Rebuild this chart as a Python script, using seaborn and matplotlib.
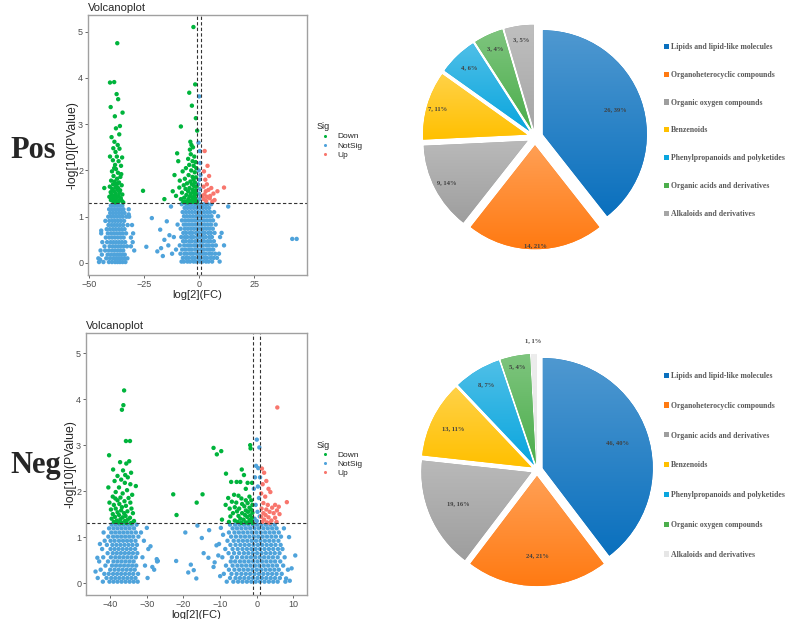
import numpy as np
import pandas as pd
import seaborn as sns
import matplotlib.pyplot as plt
import matplotlib.colors as mcolors
from matplotlib.patches import Patch

# ---------------- volcano data ----------------
# Pos
pos_down = [(-37.2, 4.75), (-40.5, 3.9), (-38.6, 3.91), (-37.5, 3.65), (-36.8, 3.54), (-40.2, 3.37),
            (-34.8, 3.25), (-38.3, 3.17), (-36.0, 2.96), (-37.8, 2.91), (-39.8, 2.72), (-36.3, 2.78),
            (-38.5, 2.62), (-37.0, 2.55), (-39.0, 2.48), (-36.2, 2.47), (-38.0, 2.40), (-35.0, 2.28),
            (-37.4, 2.30), (-40.5, 2.30), (-39.2, 2.22), (-36.6, 2.20), (-38.2, 2.12), (-35.5, 2.10),
            (-37.8, 2.03), (-39.6, 1.98), (-36.9, 1.95), (-38.9, 1.88), (-35.8, 1.86), (-37.3, 1.82),
            (-40.0, 1.78), (-38.4, 1.76), (-36.4, 1.74), (-39.1, 1.70), (-37.6, 1.69), (-35.2, 1.68),
            (-40.6, 1.65), (-38.0, 1.63), (-36.8, 1.62), (-39.5, 1.60), (-37.1, 1.58), (-35.9, 1.57),
            (-38.7, 1.55), (-40.2, 1.53), (-36.2, 1.52), (-37.9, 1.50), (-39.8, 1.48), (-34.9, 1.48),
            (-38.3, 1.46), (-36.6, 1.45), (-40.8, 1.43), (-37.4, 1.42), (-39.3, 1.41), (-35.6, 1.40),
            (-38.8, 1.38), (-36.0, 1.37), (-40.1, 1.36), (-37.7, 1.35), (-35.1, 1.34), (-39.0, 1.33),
            (-36.9, 1.32), (-38.1, 1.31), (-34.5, 1.31), (-43.1, 1.62), (-25.5, 1.56), (-15.8, 1.38),
            (-37.0, 1.72), (-35.4, 1.92), (-38.6, 2.05),
            (-2.6, 5.1), (-4.5, 3.68), (-1.8, 3.86), (-3.3, 3.4), (-1.5, 3.13), (-8.3, 2.95), (-0.9, 2.86),
            (-4.0, 2.62), (-3.5, 2.55), (-4.2, 2.45), (-2.8, 2.50), (-3.8, 2.35), (-10.0, 2.37), (-2.2, 2.30),
            (-5.0, 2.25), (-3.0, 2.20), (-1.6, 2.18), (-9.5, 2.20), (-4.5, 2.12), (-2.5, 2.10), (-6.0, 2.05),
            (-1.3, 2.05), (-3.6, 2.00), (-7.5, 1.98), (-2.0, 1.96), (-11.2, 1.90), (-4.8, 1.90), (-3.0, 1.86),
            (-1.5, 1.85), (-6.5, 1.82), (-2.6, 1.80), (-8.8, 1.78), (-4.0, 1.76), (-1.9, 1.74), (-5.5, 1.72),
            (-3.3, 1.70), (-7.0, 1.68), (-2.3, 1.66), (-1.2, 1.65), (-9.0, 1.63), (-4.4, 1.62), (-6.2, 1.60),
            (-3.0, 1.58), (-1.7, 1.57), (-12.0, 1.55), (-5.0, 1.55), (-2.6, 1.53), (-7.8, 1.52), (-3.8, 1.50),
            (-1.4, 1.49), (-5.8, 1.47), (-2.1, 1.46), (-10.5, 1.45), (-4.2, 1.44), (-3.0, 1.42), (-6.8, 1.41),
            (-1.8, 1.40), (-8.3, 1.38), (-4.9, 1.38), (-2.5, 1.36), (-3.5, 1.35), (-1.3, 1.34), (-6.0, 1.33),
            (-2.9, 1.32), (-5.2, 1.31), (-1.1, 1.31), (-7.2, 1.32), (-4.0, 1.33)]
pos_up = [(2.5, 2.42), (3.8, 2.10), (2.2, 1.98), (4.5, 1.88), (2.8, 1.80), (11.3, 1.63), (3.5, 1.70),
          (5.5, 1.62), (2.0, 1.65), (8.3, 1.55), (4.2, 1.58), (3.0, 1.55), (6.5, 1.50), (2.4, 1.48),
          (5.0, 1.45), (3.6, 1.43), (4.8, 1.40), (2.1, 1.38), (7.0, 1.36), (3.2, 1.34), (1.5, 1.45), (6.0, 1.33)]
pos_notsig_rows = [
    (0.02, [-45.5, -43.5, -41.0, -39.6, -38.2, -37.1, -36.0, -34.8, -33.5]),
    (0.10, [-45.8, -42.2, -40.5, -39.0, -37.8, -36.6, -35.4, -34.0, -32.6]),
    (0.18, [-44.2, -41.6, -40.1, -38.7, -37.4, -36.2, -35.0, -33.8]),
    (0.27, [-44.8, -42.7, -41.0, -39.5, -38.3, -37.0, -35.8, -34.5, -29.5]),
    (0.36, [-43.0, -40.7, -39.3, -38.0, -36.7, -35.5, -34.2, -32.8, -31.0]),
    (0.45, [-44.0, -41.8, -40.2, -38.9, -37.6, -36.3, -35.0, -33.6, -30.2]),
    (0.55, [-42.4, -40.8, -39.5, -38.2, -36.9, -35.6, -34.3, -31.0]),
    (0.64, [-44.5, -41.5, -40.0, -38.7, -37.4, -36.1, -34.8, -33.2, -30.0]),
    (0.73, [-42.0, -40.6, -39.2, -37.9, -36.5, -35.2, -33.9]),
    (0.82, [-41.2, -39.8, -38.5, -37.2, -35.9, -34.5, -32.5, -30.5]),
    (0.91, [-42.6, -40.8, -39.4, -38.1, -36.8, -35.5, -34.1]),
    (1.00, [-41.3, -39.9, -38.6, -37.3, -36.0, -34.7, -33.0, -31.8]),
    (1.08, [-40.4, -39.1, -37.8, -36.5, -35.2, -33.9]),
    (1.16, [-40.9, -39.6, -38.3, -37.0, -35.7, -34.4, -32.0]),
    (1.24, [-40.1, -38.8, -37.5, -36.2, -34.9]),
    (0.03, [-8.0, -6.9, -5.3, -4.1, -2.5, -1.3, 0.3, 1.5, 3.1, 4.3, 5.9, 9.3]),
    (0.11, [-7.4, -6.0, -4.8, -3.2, -2.0, -0.4, 0.8, 2.4, 3.6, 5.2, 6.6, 8.1]),
    (0.20, [-12.3, -8.5, -6.7, -5.5, -3.9, -2.7, -1.1, 0.1, 1.7, 2.9, 4.5, 5.7, 7.3, 9.0]),
    (0.29, [-10.5, -7.7, -6.2, -4.6, -3.4, -1.8, -0.6, 1.0, 2.2, 3.8, 5.0, 6.4]),
    (0.38, [-8.8, -6.8, -5.2, -4.0, -2.4, -1.2, 0.4, 1.6, 3.2, 4.4, 6.0, 7.6, 11.3]),
    (0.47, [-7.3, -6.1, -4.5, -3.3, -1.7, -0.5, 1.1, 2.3, 3.9, 5.1, 6.7]),
    (0.56, [-11.5, -8.1, -6.6, -5.4, -3.8, -2.6, -1.0, 0.2, 1.8, 3.0, 4.6, 5.8, 9.5]),
    (0.65, [-7.2, -5.9, -4.3, -3.1, -1.5, -0.3, 1.3, 2.5, 4.1, 5.3, 7.0, 10.2]),
    (0.74, [-8.4, -6.5, -5.1, -3.7, -2.3, -0.9, 0.5, 1.9, 3.3, 4.7, 6.2]),
    (0.83, [-9.8, -7.0, -5.8, -4.4, -3.0, -1.6, -0.2, 1.2, 2.6, 4.0, 5.4, 7.5]),
    (0.92, [-7.8, -6.3, -4.9, -3.5, -2.1, -0.7, 0.7, 2.1, 3.5, 4.9, 6.3]),
    (1.01, [-6.9, -5.6, -4.2, -2.8, -1.4, 0.0, 1.4, 2.8, 4.2, 5.6, 8.6]),
    (1.10, [-7.5, -6.1, -4.7, -3.3, -1.9, -0.5, 0.9, 2.3, 3.7, 5.0, 6.8]),
    (1.19, [-6.6, -5.3, -3.9, -2.5, -1.1, 0.3, 1.7, 3.1, 4.5]),
    (1.27, [-7.9, -5.9, -4.6, -3.2, -1.8, -0.4, 1.0, 2.4, 3.8, 5.5]),
]
pos_notsig_extra = [(-45.0, 0.07), (-44.5, 0.70), (-32.0, 1.05), (-21.5, 0.97), (-24.0, 0.35), (-17.7, 0.72),
                    (-14.7, 0.90), (-17.3, 0.32), (-12.8, 1.22), (-15.8, 0.50), (-19.0, 0.25), (-13.5, 0.60),
                    (-16.5, 0.15), (-14.0, 0.38), (13.2, 1.22), (42.3, 0.52), (44.3, 0.52),
                    (0.0, 3.6), (-0.3, 2.6), (0.3, 2.42), (0.5, 2.16), (-0.2, 2.0), (0.6, 1.9), (0.1, 1.8),
                    (-0.5, 1.7), (0.4, 1.6), (-0.1, 1.5), (0.7, 1.45), (0.2, 1.38), (-0.6, 1.35)]

# Neg
neg_down = [(-36.2, 4.19), (-36.4, 3.87), (-36.8, 3.77), (-35.7, 3.09), (-34.6, 3.09), (-40.3, 2.78),
            (-34.8, 2.65), (-37.3, 2.63), (-35.6, 2.60), (-39.2, 2.47), (-36.5, 2.45), (-34.3, 2.40),
            (-38.0, 2.33), (-35.2, 2.30), (-37.0, 2.25), (-33.0, 2.11), (-38.8, 2.22), (-36.0, 2.18),
            (-34.5, 2.15), (-40.5, 2.08), (-37.6, 2.08), (-35.4, 2.02), (-38.5, 1.98), (-36.6, 1.95),
            (-34.0, 1.92), (-39.3, 1.88), (-37.2, 1.86), (-35.0, 1.85), (-38.0, 1.80), (-36.1, 1.78),
            (-40.2, 1.75), (-34.5, 1.75), (-37.5, 1.72), (-39.0, 1.70), (-35.7, 1.68), (-36.8, 1.65),
            (-38.5, 1.62), (-34.2, 1.62), (-39.8, 1.60), (-37.0, 1.58), (-35.3, 1.56), (-38.0, 1.54),
            (-36.2, 1.52), (-33.8, 1.52), (-39.3, 1.50), (-37.6, 1.48), (-35.8, 1.46), (-38.7, 1.44),
            (-36.6, 1.43), (-34.6, 1.42), (-39.6, 1.40), (-37.2, 1.39), (-35.2, 1.38), (-38.2, 1.36),
            (-36.0, 1.35), (-33.5, 1.35), (-39.0, 1.33), (-37.8, 1.32), (-35.6, 1.31), (-34.3, 1.31),
            (-36.9, 1.31), (-38.6, 1.84), (-35.9, 2.35),
            (-22.8, 1.93), (-21.9, 1.48), (-16.4, 1.75), (-14.8, 1.93), (-11.8, 2.94), (-10.9, 2.80),
            (-9.7, 2.87), (-8.4, 2.38), (-4.1, 2.47), (-1.8, 3.0), (-1.7, 2.93), (-3.5, 2.35), (-5.5, 2.20),
            (-7.0, 2.20), (-2.5, 2.18), (-4.5, 2.20), (-1.3, 2.18), (-3.0, 2.05), (-6.2, 1.92), (-5.0, 1.90),
            (-2.0, 1.88), (-7.8, 1.85), (-4.2, 1.84), (-3.0, 1.80), (-1.5, 1.80), (-6.8, 1.77), (-5.6, 1.75),
            (-2.5, 1.74), (-8.5, 1.70), (-4.0, 1.72), (-1.2, 1.70), (-3.4, 1.67), (-6.0, 1.65), (-2.0, 1.64),
            (-7.4, 1.62), (-4.8, 1.62), (-1.6, 1.60), (-3.0, 1.58), (-5.4, 1.56), (-2.4, 1.55), (-1.2, 1.53),
            (-6.5, 1.52), (-4.0, 1.52), (-3.2, 1.48), (-1.8, 1.47), (-5.0, 1.46), (-7.2, 1.45), (-2.6, 1.44),
            (-1.3, 1.42), (-4.5, 1.40), (-3.6, 1.38), (-9.5, 1.38), (-2.0, 1.37), (-6.0, 1.36), (-1.5, 1.34),
            (-5.2, 1.33), (-3.0, 1.32), (-2.3, 1.31), (-4.2, 1.31), (-1.1, 1.31), (-7.6, 1.33)]
neg_up = [(5.6, 3.82), (1.4, 2.49), (2.0, 2.40), (2.6, 2.22), (1.6, 2.15), (3.2, 2.05), (3.7, 1.98),
          (8.2, 1.76), (1.2, 1.95), (2.3, 1.88), (5.0, 1.70), (1.8, 1.74), (3.0, 1.70), (6.0, 1.66),
          (4.2, 1.64), (1.3, 1.62), (2.6, 1.60), (5.5, 1.58), (3.5, 1.55), (1.8, 1.52), (4.6, 1.52),
          (2.4, 1.48), (6.2, 1.50), (1.2, 1.44), (3.2, 1.43), (5.0, 1.42), (2.0, 1.38), (4.0, 1.36),
          (1.5, 1.33), (2.8, 1.32), (5.4, 1.33), (3.6, 1.31)]
neg_notsig_rows = [
    (0.03, [-42.0, -40.2, -39.1, -38.0, -36.9, -35.8, -34.7, -33.6, -32.5]),
    (0.11, [-43.4, -41.0, -39.7, -38.6, -37.5, -36.4, -35.3, -34.2, -33.1, -29.8]),
    (0.20, [-41.6, -40.4, -39.2, -38.1, -37.0, -35.9, -34.8, -33.7, -32.4]),
    (0.29, [-42.6, -40.0, -38.8, -37.7, -36.6, -35.5, -34.4, -33.3, -28.0]),
    (0.38, [-41.3, -39.5, -38.4, -37.3, -36.2, -35.1, -34.0, -32.9, -30.5]),
    (0.47, [-43.0, -40.6, -39.1, -38.0, -36.9, -35.8, -34.7, -33.6, -27.2]),
    (0.56, [-41.9, -39.8, -38.6, -37.5, -36.4, -35.3, -34.2, -33.0, -31.2]),
    (0.65, [-40.7, -39.3, -38.2, -37.1, -36.0, -34.9, -33.8, -32.6]),
    (0.74, [-42.2, -39.9, -38.8, -37.7, -36.6, -35.5, -34.4, -33.2, -29.6]),
    (0.83, [-40.9, -39.4, -38.3, -37.2, -36.1, -35.0, -33.9, -32.7]),
    (0.92, [-41.5, -39.9, -38.8, -37.6, -36.5, -35.4, -34.3, -33.1, -30.8]),
    (1.01, [-40.5, -39.2, -38.1, -37.0, -35.9, -34.8, -33.7, -32.3]),
    (1.10, [-41.8, -39.7, -38.6, -37.5, -36.4, -35.3, -34.2, -33.0, -31.6]),
    (1.19, [-40.3, -39.1, -38.0, -36.9, -35.8, -34.7, -33.5]),
    (1.27, [-39.6, -38.5, -37.4, -36.3, -35.2, -34.1, -32.8]),
    (0.03, [-8.2, -6.4, -5.1, -3.9, -2.7, -1.5, -0.3, 0.9, 2.1, 3.3, 4.5, 5.7, 7.8]),
    (0.11, [-7.3, -5.8, -4.6, -3.4, -2.2, -1.0, 0.2, 1.4, 2.6, 3.8, 5.0, 6.3]),
    (0.20, [-9.0, -6.9, -5.5, -4.2, -3.0, -1.8, -0.6, 0.6, 1.8, 3.0, 4.2, 5.4, 6.8]),
    (0.29, [-7.6, -6.1, -4.8, -3.6, -2.4, -1.2, 0.0, 1.2, 2.4, 3.6, 4.8, 6.0, 8.5]),
    (0.38, [-8.4, -6.6, -5.3, -4.1, -2.9, -1.7, -0.5, 0.7, 1.9, 3.1, 4.3, 5.5, 7.2]),
    (0.47, [-7.1, -5.9, -4.6, -3.4, -2.2, -1.0, 0.2, 1.4, 2.6, 3.8, 5.0, 6.4]),
    (0.56, [-9.4, -6.8, -5.4, -4.0, -2.8, -1.6, -0.4, 0.8, 2.0, 3.2, 4.4, 5.7, 7.6]),
    (0.65, [-7.7, -6.2, -4.8, -3.5, -2.3, -1.1, 0.1, 1.3, 2.5, 3.7, 4.9, 6.2]),
    (0.74, [-8.6, -6.6, -5.2, -3.9, -2.7, -1.5, -0.3, 0.9, 2.1, 3.3, 4.5, 5.8, 7.0]),
    (0.83, [-7.2, -5.8, -4.5, -3.3, -2.1, -0.9, 0.3, 1.5, 2.7, 3.9, 5.1, 6.5]),
    (0.92, [-8.0, -6.3, -5.0, -3.8, -2.6, -1.4, -0.2, 1.0, 2.2, 3.4, 4.6, 5.9]),
    (1.01, [-7.0, -5.7, -4.4, -3.2, -2.0, -0.8, 0.4, 1.6, 2.8, 4.0, 5.2, 6.6]),
    (1.10, [-7.6, -6.1, -4.9, -3.7, -2.5, -1.3, -0.1, 1.1, 2.3, 3.5, 4.7, 6.0]),
    (1.19, [-6.6, -5.4, -4.2, -3.0, -1.8, -0.6, 0.6, 1.8, 3.0, 4.2, 5.4, 7.4]),
    (1.27, [-7.3, -5.9, -4.7, -3.5, -2.3, -1.1, 0.1, 1.3, 2.5, 3.7, 4.9]),
]
neg_notsig_extra = [(-44.0, 0.25), (-43.5, 0.55), (-42.8, 0.85), (-27.0, 0.48), (-27.3, 0.52), (-28.5, 0.35),
                    (-29.0, 0.80), (-30.0, 1.20), (-22.0, 0.48), (-19.5, 1.10), (-18.0, 0.40), (-17.2, 0.28),
                    (-16.2, 1.25), (-15.0, 0.98), (-14.5, 0.65), (-13.2, 0.55), (-13.0, 1.15), (-11.8, 0.35),
                    (-11.0, 0.82), (-10.5, 0.60), (-10.0, 0.15), (-9.2, 1.05), (-16.5, 0.10), (-18.7, 0.23),
                    (10.5, 0.60), (9.5, 0.32), (8.8, 1.00), (8.0, 0.10), (9.0, 0.05), (-10.3, 0.85),
                    (-11.5, 0.45), (-9.8, 1.20),
                    (0.0, 3.12), (0.7, 2.95), (-0.2, 2.55), (0.4, 2.50), (0.9, 2.30), (-0.5, 2.30), (0.3, 2.10),
                    (-0.8, 2.05), (0.6, 1.85), (-0.3, 1.70), (0.2, 1.55), (0.8, 1.45), (-0.6, 1.40), (0.0, 1.35)]

# ---------------- pie data ----------------
pos_classes = ['Lipids and lipid-like molecules', 'Organoheterocyclic compounds', 'Organic oxygen compounds',
               'Benzenoids', 'Phenylpropanoids and polyketides', 'Organic acids and derivatives',
               'Alkaloids and derivatives']
pos_counts = [26, 14, 9, 7, 4, 3, 3]
pos_labels = ['26, 39%', '14, 21%', '9, 14%', '7, 11%', '4, 6%', '3, 4%', '3, 5%']

neg_classes = ['Lipids and lipid-like molecules', 'Organoheterocyclic compounds', 'Organic acids and derivatives',
               'Benzenoids', 'Phenylpropanoids and polyketides', 'Organic oxygen compounds',
               'Alkaloids and derivatives']
neg_counts = [46, 24, 19, 13, 8, 5, 1]
neg_labels = ['46, 40%', '24, 21%', '19, 16%', '13, 11%', '8, 7%', '5, 4%', '1, 1%']

pos_colors = ['#0A70BE', '#FF7A12', '#9E9E9E', '#FFC000', '#0AA6DE', '#4CAE4C', '#A6A6A6']
neg_colors = ['#0A70BE', '#FF7A12', '#9E9E9E', '#FFC000', '#0AA6DE', '#4CAE4C', '#E6E6E6']

# ---------------- figure ----------------
sns.set_style('white')
plt.rcParams['font.family'] = ['Liberation Sans', 'DejaVu Sans']

W, H = 789, 619
fig = plt.figure(figsize=(W / 100, H / 100), dpi=100)


def px_axes(l, t, r, b):
    return fig.add_axes([l / W, 1 - b / H, (r - l) / W, (b - t) / H])


sig_colors = {'Down': '#00B43C', 'NotSig': '#4FA3DB', 'Up': '#F8766D'}


def volcano(ax, down, up, ns_rows, ns_extra, xlim, ylim, xticks, leg_y):
    ns = [(x, y) for y, xs in ns_rows for x in xs] + ns_extra
    rows = [(x, y, 'NotSig') for x, y in ns] + [(x, y, 'Down') for x, y in down] + [(x, y, 'Up') for x, y in up]
    df = pd.DataFrame(rows, columns=['log2FC', 'logP', 'Sig'])
    sns.scatterplot(data=df, x='log2FC', y='logP', hue='Sig', hue_order=['Down', 'NotSig', 'Up'],
                    palette=sig_colors, s=10, linewidth=0, ax=ax)
    ax.axhline(1.3, color='#333333', lw=0.8, ls=(0, (3, 2)))
    for v in (-1, 1):
        ax.axvline(v, color='#333333', lw=0.8, ls=(0, (3, 2)))
    ax.set_xlim(*xlim)
    ax.set_ylim(*ylim)
    ax.set_xticks(xticks)
    ax.set_yticks([0, 1, 2, 3, 4, 5])
    ax.set_xlabel('log[2](FC)', fontsize=8, labelpad=0.5)
    ax.set_ylabel('-log[10](PValue)', fontsize=8.8, labelpad=-0.5)
    ax.set_title('Volcanoplot', loc='left', fontsize=8, pad=3)
    ax.tick_params(labelsize=6.5, colors='#4D4D4D', length=2.5, width=0.6, pad=1.0, left=True, bottom=True)
    for sp in ax.spines.values():
        sp.set_color('#A0A0A0')
        sp.set_linewidth(1.0)
    handles, labels = ax.get_legend_handles_labels()
    ax.legend(handles, labels, title='Sig', loc='upper left', bbox_to_anchor=(1.03, leg_y), frameon=False,
              fontsize=6, title_fontsize=6.5, markerscale=0.7, handletextpad=0.4, labelspacing=0.15,
              alignment='left', borderaxespad=0)


ax1 = px_axes(88, 15, 307, 275)
volcano(ax1, pos_down, pos_up, pos_notsig_rows, pos_notsig_extra, (-50.5, 49), (-0.26, 5.36),
        [-50, -25, 0, 25], 0.6)
ax2 = px_axes(86, 333, 307, 595)
volcano(ax2, neg_down, neg_up, neg_notsig_rows, neg_notsig_extra, (-46.6, 13.7), (-0.26, 5.44),
        [-40, -30, -20, -10, 0, 10], 0.6)


def pie(ax, counts, labels, colors, explode, label_r, lim):
    wedges, _ = ax.pie(counts, colors=colors, startangle=90, counterclock=False,
                       explode=[explode] * len(counts), radius=1, wedgeprops=dict(linewidth=0))
    for w, c in zip(wedges, colors):
        ext = w.get_path().get_extents()
        base = np.array(mcolors.to_rgb(c))
        light = base + (1 - base) * 0.28
        t = np.linspace(0, 1, 64)[:, None, None]
        img = light * (1 - t) + base * t
        im = ax.imshow(img, extent=(ext.x0, ext.x1, ext.y0, ext.y1), aspect='auto',
                       interpolation='bilinear', zorder=1.5)
        im.set_clip_path(w)
    for w, txt, d in zip(wedges, labels, label_r):
        a = np.deg2rad((w.theta1 + w.theta2) / 2)
        cx, cy = w.center
        ax.text(cx + d * np.cos(a), cy + d * np.sin(a), txt, ha='center', va='center', fontsize=4.7,
                fontweight='bold', color='#404040', family='Liberation Serif', zorder=3)
    ax.set_xlim(-lim, lim)
    ax.set_ylim(-lim, lim)
    ax.set_aspect('equal')
    ax.axis('off')


r1 = 104
ax3 = px_axes(535 - 1.3 * r1, 137 - 1.3 * r1, 535 + 1.3 * r1, 137 + 1.3 * r1)
pie(ax3, pos_counts, pos_labels, pos_colors, 0.08, [0.74, 0.96, 0.88, 0.9, 0.84, 0.85, 0.87], 1.3)
r2 = 110
ax4 = px_axes(537 - 1.3 * r2, 470 - 1.3 * r2, 537 + 1.3 * r2, 470 + 1.3 * r2)
pie(ax4, neg_counts, neg_labels, neg_colors, 0.055, [0.72, 0.72, 0.72, 0.8, 0.85, 0.9, 1.12], 1.3)


def pie_legend(names, colors, top, spacing):
    handles = [Patch(facecolor=c, edgecolor='none') for c in colors]
    fig.legend(handles, names, loc='upper left', bbox_to_anchor=(664 / W, 1 - top / H), frameon=False,
               prop=dict(family='Liberation Serif', weight='bold', size=5.6), labelcolor='#595959',
               handlelength=0.65, handleheight=0.65, handletextpad=0.25, labelspacing=spacing,
               borderpad=0, borderaxespad=0)


pie_legend(pos_classes, pos_colors, 43, 2.55)
pie_legend(neg_classes, neg_colors, 372, 2.8)

for txt, y in (('Pos', 150), ('Neg', 465)):
    fig.text(10 / W, 1 - y / H, txt, fontsize=22, fontweight='bold', family='Liberation Serif',
             va='center', ha='left')

fig.savefig('out.png', dpi=100)
